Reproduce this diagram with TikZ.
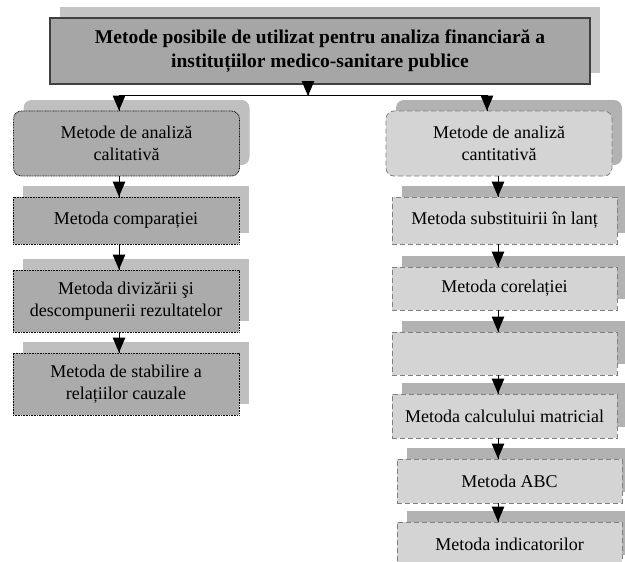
\documentclass[tikz,border=0pt]{standalone}
\usepackage{fontspec}
\setmainfont{Liberation Serif}
\usetikzlibrary{arrows}
\usetikzlibrary{decorations.markings}
\usetikzlibrary{shadows}
\tikzset{->/.style = {decoration={markings,
                                  mark=at position 1 with {\arrow[scale=1.9]{triangle 45}}},
                      postaction={decorate}}}
\definecolor{mline}{rgb}{0.25, 0.25, 0.25}
\definecolor{mtitle}{rgb}{0.65, 0.65, 0.65}
\definecolor{mtshadow}{rgb}{0.77, 0.77, 0.77}
\definecolor{mqual}{rgb}{0.67, 0.67, 0.67}
\definecolor{mqshadow}{rgb}{0.75, 0.75, 0.75}
\definecolor{mquant}{rgb}{0.83, 0.83, 0.83}
\definecolor{mnshadow}{rgb}{0.70, 0.70, 0.70}
\definecolor{mdash}{rgb}{0.5, 0.5, 0.5}

\begin{document}
\begin{tikzpicture}[x=1pt, y=-1pt, line width=0.8pt,
    font=\fontsize{18}{21.5}\selectfont,
    head/.style = {draw=mline, line width=1.3pt, fill=mtitle,
                   general shadow={shadow xshift=10pt, shadow yshift=11pt, fill=mtshadow},
                   minimum width=540pt, minimum height=66pt, align=center,
                   font=\fontsize{19.5}{23.5}\selectfont\bfseries},
    qual/.style = {draw=black, dash pattern=on 0.8pt off 0.8pt, fill=mqual,
                   general shadow={shadow xshift=10pt, shadow yshift=11pt, fill=mqshadow},
                   minimum width=226pt, align=center},
    quant/.style = {draw=mdash, dash pattern=on 5pt off 3pt, fill=mquant,
                    general shadow={shadow xshift=10pt, shadow yshift=11pt, fill=mnshadow},
                    minimum width=225pt, align=center}]
    \useasboundingbox (0, 0) rectangle (625, 562);
    \clip (0, 0) rectangle (625, 562);

    \node [head] (title) at (320, 51)
        {Metode posibile de utilizat pentru analiza financiară a\\instituțiilor medico-sanitare publice};

    \node [qual, rounded corners=8pt, minimum height=65pt] (L0) at (126.5, 143.5) {Metode de analiză\\calitativă};
    \node [qual, minimum height=47pt] (L1) at (126, 220.5) {Metoda comparației};
    \node [qual, minimum height=62pt] (L2) at (126, 301) {Metoda divizării şi\\descompunerii rezultatelor};
    \node [qual, minimum height=62pt] (L3) at (126, 384) {Metoda de stabilire a\\relațiilor cauzale};

    \node [quant, rounded corners=8pt, minimum height=65pt, minimum width=226pt] (R0) at (499, 143.5) {Metode de analiză\\cantitativă};
    \node [quant, minimum height=47pt] (R1) at (504.5, 220.5) {Metoda substituirii în lanț};
    \node [quant, minimum height=43pt] (R2) at (504.5, 288.5) {Metoda corelației};
    \node [quant, minimum height=43pt] (R3) at (504.5, 353.5) {};
    \node [quant, minimum height=44pt] (R4) at (504.5, 416) {Metoda calculului matricial};
    \node [quant, minimum height=44pt] (R5) at (509.5, 481) {Metoda ABC};
    \node [quant, minimum height=44pt] (R6) at (509.5, 544) {Metoda indicatorilor};

    \coordinate (jc) at (308, 96);
    \coordinate (jl) at (119, 95);
    \coordinate (jr) at (487, 95);
    \coordinate (rx) at (498, 95);

    \draw (jl) -- (jr);
    \draw [->] (title.south -| jc) -- (jc);
    \draw [->] (jl) -- (jl |- L0.north);
    \draw [->] (jr) -- (jr |- R0.north);

    \foreach \a/\b in {L0/L1, L1/L2, L2/L3}
        \draw [->] (\a.south -| jl) -- (\b.north -| jl);
    \foreach \a/\b in {R0/R1, R1/R2, R2/R3, R3/R4, R4/R5, R5/R6}
        \draw [->] (\a.south -| rx) -- (\b.north -| rx);
\end{tikzpicture}
\end{document}
